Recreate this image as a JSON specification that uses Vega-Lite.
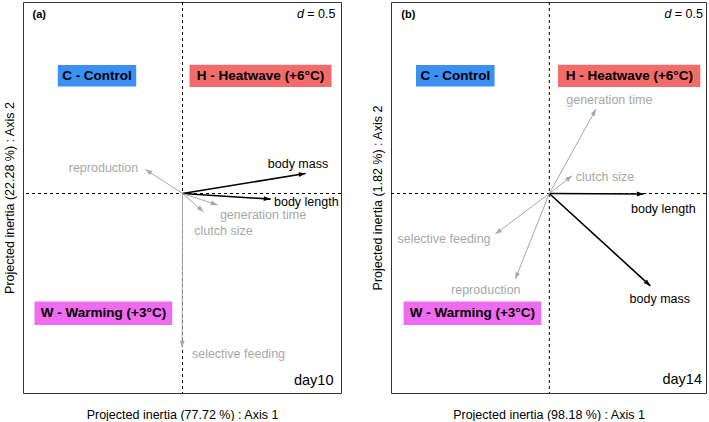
{
  "$schema": "https://vega.github.io/schema/vega-lite/v6.json",
  "padding": {"left": 3, "top": 1, "right": 0, "bottom": 0},
  "spacing": 29,
  "config": {
    "font": "Liberation Sans",
    "view": {"stroke": "#333333", "strokeWidth": 1},
    "axis": {"labels": false, "ticks": false, "domain": false, "grid": false, "titleFontWeight": "normal", "titleFontSize": 12.5, "titleFont": "Liberation Sans", "titleColor": "#000000"},
    "axisX": {"titlePadding": 15},
    "axisY": {"titlePadding": 6.5},
    "text": {"font": "Liberation Sans"}
  },
  "datasets": {
    "arrowsA": [
      {"var": "body mass", "type": "size", "x0": 0, "y0": 0, "x": 1.23, "y": 0.2, "lx": 1.155, "ly": 0.3},
      {"var": "body length", "type": "size", "x0": 0, "y0": 0, "x": 0.88, "y": -0.056, "lx": 1.238, "ly": -0.083},
      {"var": "reproduction", "type": "other", "x0": 0, "y0": 0, "x": -0.37, "y": 0.24, "lx": -0.79, "ly": 0.254},
      {"var": "generation time", "type": "other", "x0": 0, "y0": 0, "x": 0.35, "y": -0.115, "lx": 0.805, "ly": -0.213},
      {"var": "clutch size", "type": "other", "x0": 0, "y0": 0, "x": 0.21, "y": -0.183, "lx": 0.41, "ly": -0.373},
      {"var": "selective feeding", "type": "other", "x0": 0, "y0": 0, "x": -0.003, "y": -1.54, "lx": 0.56, "ly": -1.606}
    ],
    "arrowsB": [
      {"var": "body length", "type": "size", "x0": 0, "y0": 0, "x": 0.943, "y": -0.005, "lx": 1.14, "ly": -0.15},
      {"var": "body mass", "type": "size", "x0": 0, "y0": 0, "x": 1.01, "y": -0.923, "lx": 1.105, "ly": -1.056},
      {"var": "selective feeding", "type": "other", "x0": 0, "y0": 0, "x": -0.54, "y": -0.406, "lx": -1.053, "ly": -0.456},
      {"var": "reproduction", "type": "other", "x0": 0, "y0": 0, "x": -0.34, "y": -0.856, "lx": -0.635, "ly": -0.966},
      {"var": "clutch size", "type": "other", "x0": 0, "y0": 0, "x": 0.227, "y": 0.177, "lx": 0.557, "ly": 0.167},
      {"var": "generation time", "type": "other", "x0": 0, "y0": 0, "x": 0.467, "y": 0.844, "lx": 0.6, "ly": 0.934}
    ],
    "groupsA": [
      {"g": "C", "label": "C - Control", "x1": -1.247, "x2": -0.463, "y1": 1.07, "y2": 1.284, "cx": -0.855, "cy": 1.177},
      {"g": "H", "label": "H - Heatwave (+6°C)", "x1": 0.07, "x2": 1.49, "y1": 1.064, "y2": 1.287, "cx": 0.78, "cy": 1.177},
      {"g": "W", "label": "W - Warming (+3°C)", "x1": -1.48, "x2": -0.103, "y1": -1.316, "y2": -1.08, "cx": -0.79, "cy": -1.198}
    ],
    "groupsB": [
      {"g": "C", "label": "C - Control", "x1": -1.333, "x2": -0.547, "y1": 1.07, "y2": 1.284, "cx": -0.94, "cy": 1.177},
      {"g": "H", "label": "H - Heatwave (+6°C)", "x1": 0.087, "x2": 1.51, "y1": 1.064, "y2": 1.287, "cx": 0.8, "cy": 1.177},
      {"g": "W", "label": "W - Warming (+3°C)", "x1": -1.457, "x2": -0.08, "y1": -1.316, "y2": -1.08, "cx": -0.77, "cy": -1.198}
    ],
    "notesA": [
      {"panel": "(a)", "px": -1.5, "py": 1.787, "dx": 1.214, "ex": 1.53, "dy": 1.794, "day": "day10", "tx": 1.51, "ty": -1.873}
    ],
    "notesB": [
      {"panel": "(b)", "px": -1.48, "py": 1.787, "dx": 1.221, "ex": 1.537, "dy": 1.794, "day": "day14", "tx": 1.527, "ty": -1.866}
    ]
  },
  "hconcat": [
    {
      "width": 318,
      "height": 391,
      "layer": [
        {
          "data": {"values": [{"v": 0}]},
          "mark": {"type": "rule", "strokeDash": [3, 3], "color": "#000000", "strokeWidth": 1},
          "encoding": {"x": {"field": "v", "type": "quantitative", "scale": {"domain": [-1.595, 1.585], "nice": false, "zero": false}, "axis": {"title": "Projected inertia (77.72 %) : Axis 1"}}}
        },
        {
          "data": {"values": [{"v": 0}]},
          "mark": {"type": "rule", "strokeDash": [3, 3], "color": "#000000", "strokeWidth": 1},
          "encoding": {"y": {"field": "v", "type": "quantitative", "scale": {"domain": [-1.995, 1.915], "nice": false, "zero": false}, "axis": {"title": "Projected inertia (22.28 %) : Axis 2"}}}
        },
        {
          "data": {"name": "groupsA"},
          "mark": {"type": "rect"},
          "encoding": {
            "x": {"field": "x1", "type": "quantitative", "scale": {"domain": [-1.595, 1.585], "nice": false, "zero": false}},
            "x2": {"field": "x2"},
            "y": {"field": "y1", "type": "quantitative", "scale": {"domain": [-1.995, 1.915], "nice": false, "zero": false}},
            "y2": {"field": "y2"},
            "fill": {"field": "g", "type": "nominal", "scale": {"domain": ["C", "H", "W"], "range": ["#3b8ff5", "#f26c6c", "#ef6bef"]}, "legend": null}
          }
        },
        {
          "data": {"name": "groupsA"},
          "mark": {"type": "text", "fontWeight": "bold", "fontSize": 13.5, "color": "#000000", "baseline": "middle", "align": "center"},
          "encoding": {
            "x": {"field": "cx", "type": "quantitative", "scale": {"domain": [-1.595, 1.585], "nice": false, "zero": false}},
            "y": {"field": "cy", "type": "quantitative", "scale": {"domain": [-1.995, 1.915], "nice": false, "zero": false}},
            "text": {"field": "label"}
          }
        },
        {
          "data": {"name": "arrowsA"},
          "mark": {"type": "rule"},
          "encoding": {
            "x": {"field": "x0", "type": "quantitative", "scale": {"domain": [-1.595, 1.585], "nice": false, "zero": false}},
            "y": {"field": "y0", "type": "quantitative", "scale": {"domain": [-1.995, 1.915], "nice": false, "zero": false}},
            "x2": {"field": "x"},
            "y2": {"field": "y"},
            "color": {"field": "type", "type": "nominal", "scale": {"domain": ["size", "other"], "range": ["#000000", "#a8a8a8"]}, "legend": null},
            "strokeWidth": {"field": "type", "type": "nominal", "scale": {"domain": ["size", "other"], "range": [1.6, 1]}, "legend": null}
          }
        },
        {
          "data": {"name": "arrowsA"},
          "transform": [{"calculate": "(atan2(datum.x, datum.y) * 180 / PI + 360) % 360", "as": "ang"}],
          "mark": {"type": "point", "shape": "M0,0L-0.36,1L0.36,1Z", "filled": true, "size": 180, "opacity": 1, "strokeWidth": 0},
          "encoding": {
            "x": {"field": "x", "type": "quantitative", "scale": {"domain": [-1.595, 1.585], "nice": false, "zero": false}},
            "y": {"field": "y", "type": "quantitative", "scale": {"domain": [-1.995, 1.915], "nice": false, "zero": false}},
            "angle": {"field": "ang", "type": "quantitative", "scale": null},
            "color": {"field": "type", "type": "nominal", "scale": {"domain": ["size", "other"], "range": ["#000000", "#a8a8a8"]}, "legend": null}
          }
        },
        {
          "data": {"name": "arrowsA"},
          "mark": {"type": "text", "fontSize": 12.5, "baseline": "middle", "align": "center"},
          "encoding": {
            "x": {"field": "lx", "type": "quantitative", "scale": {"domain": [-1.595, 1.585], "nice": false, "zero": false}},
            "y": {"field": "ly", "type": "quantitative", "scale": {"domain": [-1.995, 1.915], "nice": false, "zero": false}},
            "text": {"field": "var"},
            "color": {"field": "type", "type": "nominal", "scale": {"domain": ["size", "other"], "range": ["#000000", "#a8a8a8"]}, "legend": null}
          }
        },
        {
          "data": {"name": "notesA"},
          "mark": {"type": "text", "fontSize": 11, "fontWeight": "bold", "baseline": "middle", "align": "left", "color": "#000000"},
          "encoding": {
            "x": {"field": "px", "type": "quantitative", "scale": {"domain": [-1.595, 1.585], "nice": false, "zero": false}},
            "y": {"field": "py", "type": "quantitative", "scale": {"domain": [-1.995, 1.915], "nice": false, "zero": false}},
            "text": {"field": "panel"}
          }
        },
        {
          "data": {"name": "notesA"},
          "mark": {"type": "text", "fontSize": 12.5, "fontStyle": "italic", "baseline": "middle", "align": "right", "color": "#000000", "text": "d"},
          "encoding": {
            "x": {"field": "dx", "type": "quantitative", "scale": {"domain": [-1.595, 1.585], "nice": false, "zero": false}},
            "y": {"field": "dy", "type": "quantitative", "scale": {"domain": [-1.995, 1.915], "nice": false, "zero": false}}
          }
        },
        {
          "data": {"name": "notesA"},
          "mark": {"type": "text", "fontSize": 12.5, "baseline": "middle", "align": "right", "color": "#000000", "text": " = 0.5"},
          "encoding": {
            "x": {"field": "ex", "type": "quantitative", "scale": {"domain": [-1.595, 1.585], "nice": false, "zero": false}},
            "y": {"field": "dy", "type": "quantitative", "scale": {"domain": [-1.995, 1.915], "nice": false, "zero": false}}
          }
        },
        {
          "data": {"name": "notesA"},
          "mark": {"type": "text", "fontSize": 14.5, "baseline": "middle", "align": "right", "color": "#000000"},
          "encoding": {
            "x": {"field": "tx", "type": "quantitative", "scale": {"domain": [-1.595, 1.585], "nice": false, "zero": false}},
            "y": {"field": "ty", "type": "quantitative", "scale": {"domain": [-1.995, 1.915], "nice": false, "zero": false}},
            "text": {"field": "day"}
          }
        }
      ]
    },
    {
      "width": 315,
      "height": 391,
      "layer": [
        {
          "data": {"values": [{"v": 0}]},
          "mark": {"type": "rule", "strokeDash": [3, 3], "color": "#000000", "strokeWidth": 1},
          "encoding": {"x": {"field": "v", "type": "quantitative", "scale": {"domain": [-1.583, 1.567], "nice": false, "zero": false}, "axis": {"title": "Projected inertia (98.18 %) : Axis 1"}}}
        },
        {
          "data": {"values": [{"v": 0}]},
          "mark": {"type": "rule", "strokeDash": [3, 3], "color": "#000000", "strokeWidth": 1},
          "encoding": {"y": {"field": "v", "type": "quantitative", "scale": {"domain": [-1.995, 1.915], "nice": false, "zero": false}, "axis": {"title": "Projected inertia (1.82 %) : Axis 2"}}}
        },
        {
          "data": {"name": "groupsB"},
          "mark": {"type": "rect"},
          "encoding": {
            "x": {"field": "x1", "type": "quantitative", "scale": {"domain": [-1.583, 1.567], "nice": false, "zero": false}},
            "x2": {"field": "x2"},
            "y": {"field": "y1", "type": "quantitative", "scale": {"domain": [-1.995, 1.915], "nice": false, "zero": false}},
            "y2": {"field": "y2"},
            "fill": {"field": "g", "type": "nominal", "scale": {"domain": ["C", "H", "W"], "range": ["#3b8ff5", "#f26c6c", "#ef6bef"]}, "legend": null}
          }
        },
        {
          "data": {"name": "groupsB"},
          "mark": {"type": "text", "fontWeight": "bold", "fontSize": 13.5, "color": "#000000", "baseline": "middle", "align": "center"},
          "encoding": {
            "x": {"field": "cx", "type": "quantitative", "scale": {"domain": [-1.583, 1.567], "nice": false, "zero": false}},
            "y": {"field": "cy", "type": "quantitative", "scale": {"domain": [-1.995, 1.915], "nice": false, "zero": false}},
            "text": {"field": "label"}
          }
        },
        {
          "data": {"name": "arrowsB"},
          "mark": {"type": "rule"},
          "encoding": {
            "x": {"field": "x0", "type": "quantitative", "scale": {"domain": [-1.583, 1.567], "nice": false, "zero": false}},
            "y": {"field": "y0", "type": "quantitative", "scale": {"domain": [-1.995, 1.915], "nice": false, "zero": false}},
            "x2": {"field": "x"},
            "y2": {"field": "y"},
            "color": {"field": "type", "type": "nominal", "scale": {"domain": ["size", "other"], "range": ["#000000", "#a8a8a8"]}, "legend": null},
            "strokeWidth": {"field": "type", "type": "nominal", "scale": {"domain": ["size", "other"], "range": [1.6, 1]}, "legend": null}
          }
        },
        {
          "data": {"name": "arrowsB"},
          "transform": [{"calculate": "(atan2(datum.x, datum.y) * 180 / PI + 360) % 360", "as": "ang"}],
          "mark": {"type": "point", "shape": "M0,0L-0.36,1L0.36,1Z", "filled": true, "size": 180, "opacity": 1, "strokeWidth": 0},
          "encoding": {
            "x": {"field": "x", "type": "quantitative", "scale": {"domain": [-1.583, 1.567], "nice": false, "zero": false}},
            "y": {"field": "y", "type": "quantitative", "scale": {"domain": [-1.995, 1.915], "nice": false, "zero": false}},
            "angle": {"field": "ang", "type": "quantitative", "scale": null},
            "color": {"field": "type", "type": "nominal", "scale": {"domain": ["size", "other"], "range": ["#000000", "#a8a8a8"]}, "legend": null}
          }
        },
        {
          "data": {"name": "arrowsB"},
          "mark": {"type": "text", "fontSize": 12.5, "baseline": "middle", "align": "center"},
          "encoding": {
            "x": {"field": "lx", "type": "quantitative", "scale": {"domain": [-1.583, 1.567], "nice": false, "zero": false}},
            "y": {"field": "ly", "type": "quantitative", "scale": {"domain": [-1.995, 1.915], "nice": false, "zero": false}},
            "text": {"field": "var"},
            "color": {"field": "type", "type": "nominal", "scale": {"domain": ["size", "other"], "range": ["#000000", "#a8a8a8"]}, "legend": null}
          }
        },
        {
          "data": {"name": "notesB"},
          "mark": {"type": "text", "fontSize": 11, "fontWeight": "bold", "baseline": "middle", "align": "left", "color": "#000000"},
          "encoding": {
            "x": {"field": "px", "type": "quantitative", "scale": {"domain": [-1.583, 1.567], "nice": false, "zero": false}},
            "y": {"field": "py", "type": "quantitative", "scale": {"domain": [-1.995, 1.915], "nice": false, "zero": false}},
            "text": {"field": "panel"}
          }
        },
        {
          "data": {"name": "notesB"},
          "mark": {"type": "text", "fontSize": 12.5, "fontStyle": "italic", "baseline": "middle", "align": "right", "color": "#000000", "text": "d"},
          "encoding": {
            "x": {"field": "dx", "type": "quantitative", "scale": {"domain": [-1.583, 1.567], "nice": false, "zero": false}},
            "y": {"field": "dy", "type": "quantitative", "scale": {"domain": [-1.995, 1.915], "nice": false, "zero": false}}
          }
        },
        {
          "data": {"name": "notesB"},
          "mark": {"type": "text", "fontSize": 12.5, "baseline": "middle", "align": "right", "color": "#000000", "text": " = 0.5"},
          "encoding": {
            "x": {"field": "ex", "type": "quantitative", "scale": {"domain": [-1.583, 1.567], "nice": false, "zero": false}},
            "y": {"field": "dy", "type": "quantitative", "scale": {"domain": [-1.995, 1.915], "nice": false, "zero": false}}
          }
        },
        {
          "data": {"name": "notesB"},
          "mark": {"type": "text", "fontSize": 14.5, "baseline": "middle", "align": "right", "color": "#000000"},
          "encoding": {
            "x": {"field": "tx", "type": "quantitative", "scale": {"domain": [-1.583, 1.567], "nice": false, "zero": false}},
            "y": {"field": "ty", "type": "quantitative", "scale": {"domain": [-1.995, 1.915], "nice": false, "zero": false}},
            "text": {"field": "day"}
          }
        }
      ]
    }
  ]
}
